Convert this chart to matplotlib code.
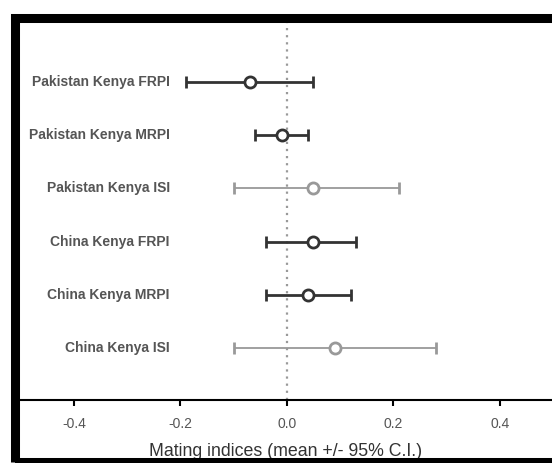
import matplotlib.pyplot as plt
from matplotlib.patches import Rectangle

plt.rcParams['font.family'] = ['Liberation Sans', 'DejaVu Sans']

# mating indices, top row first
labels = ["Pakistan Kenya FRPI", "Pakistan Kenya MRPI", "Pakistan Kenya ISI",
          "China Kenya FRPI", "China Kenya MRPI", "China Kenya ISI"]
means = [-0.07, -0.01, 0.05, 0.05, 0.04, 0.09]
lower = [-0.19, -0.06, -0.10, -0.04, -0.04, -0.10]
upper = [0.05, 0.04, 0.21, 0.13, 0.12, 0.28]
is_isi = [False, False, True, False, False, True]
xticks = [-0.4, -0.2, 0.0, 0.2, 0.4]

fig = plt.figure(figsize=(5.52, 4.63), dpi=100)

# thick outer frame
fig.patches.append(Rectangle((0.0263, 0.002), 1.2, 0.960, transform=fig.transFigure,
                             fill=False, edgecolor="black", linewidth=6.5))

ax = fig.add_axes([0.0344, 0.136, 0.9656, 0.8165])
ax.set_xlim(-0.503, 0.498)
ax.set_ylim(0.02, 7.13)

ax.axvline(0, color="#999999", linestyle=(0, (1, 2.2)), linewidth=1.6, zorder=1)

n = len(labels)
for i in range(n):
    y = n - i
    col = "#999999" if is_isi[i] else "#333333"
    lw = 1.3 if is_isi[i] else 2.0
    ax.errorbar(means[i], y, xerr=[[means[i] - lower[i]], [upper[i] - means[i]]],
                fmt="o", color=col, ecolor=col, elinewidth=lw, capsize=4, capthick=lw,
                markersize=8, markerfacecolor="white", markeredgecolor=col,
                markeredgewidth=2.0, zorder=3)
    ax.text(-0.22, y, labels[i], ha="right", va="center", fontsize=10,
            fontweight="bold", color="#555555")

for s in ["left", "right", "top"]:
    ax.spines[s].set_visible(False)
ax.spines["bottom"].set_linewidth(1.5)
ax.set_yticks([])
ax.set_xticks(xticks)
ax.set_xticklabels(["%.1f" % t for t in xticks])
ax.tick_params(axis="x", direction="out", length=4, width=1.5, pad=8,
               labelsize=10, labelcolor="#555555")
ax.set_xlabel("Mating indices (mean +/- 95% C.I.)", fontsize=12.8, color="#333333", labelpad=9)

fig.savefig("out.png", dpi=100)
